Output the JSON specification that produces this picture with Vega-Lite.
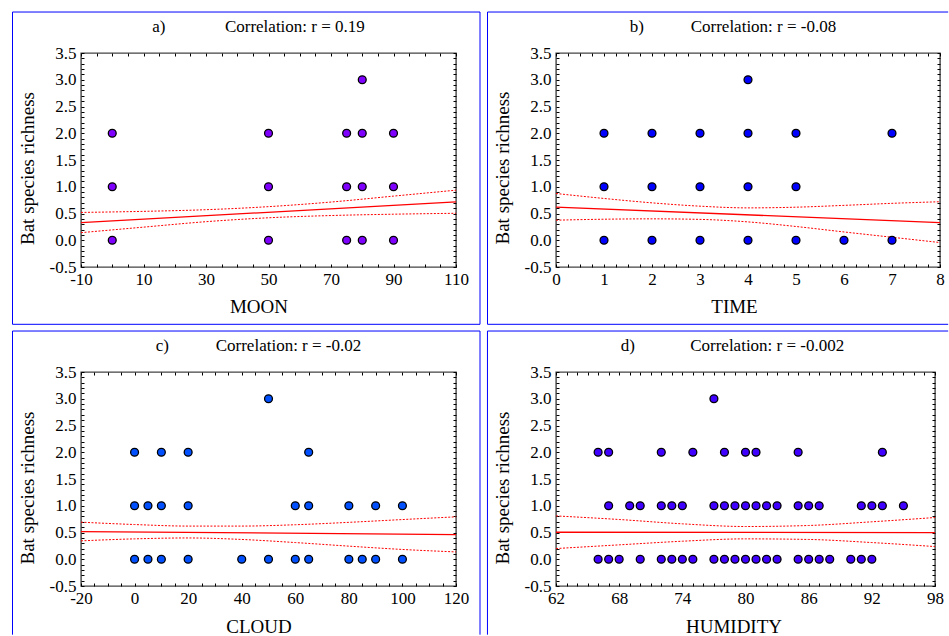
{
  "$schema": "https://vega.github.io/schema/vega-lite/v6.json",
  "padding": {"left": 11, "top": 10, "right": 0, "bottom": 0},
  "background": "#ffffff",
  "columns": 2,
  "align": "each",
  "bounds": "full",
  "spacing": {"column": 4, "row": 3},
  "datasets": {
    "moon": [
      {"x": 80, "y": 3},
      {"x": 0, "y": 2}, {"x": 50, "y": 2}, {"x": 75, "y": 2}, {"x": 80, "y": 2}, {"x": 90, "y": 2},
      {"x": 0, "y": 1}, {"x": 50, "y": 1}, {"x": 75, "y": 1}, {"x": 80, "y": 1}, {"x": 90, "y": 1},
      {"x": 0, "y": 0}, {"x": 50, "y": 0}, {"x": 75, "y": 0}, {"x": 80, "y": 0}, {"x": 90, "y": 0}
    ],
    "moonFit": [{"x": -10, "y": 0.33}, {"x": 110, "y": 0.717}],
    "moonCI": [
      {"bound": "upper", "x": -10, "y": 0.52}, {"bound": "upper", "x": 10, "y": 0.54}, {"bound": "upper", "x": 30, "y": 0.571},
      {"bound": "upper", "x": 50, "y": 0.628}, {"bound": "upper", "x": 70, "y": 0.714}, {"bound": "upper", "x": 90, "y": 0.825},
      {"bound": "upper", "x": 110, "y": 0.936},
      {"bound": "lower", "x": -10, "y": 0.142}, {"bound": "lower", "x": 10, "y": 0.245}, {"bound": "lower", "x": 30, "y": 0.347},
      {"bound": "lower", "x": 50, "y": 0.42}, {"bound": "lower", "x": 70, "y": 0.462}, {"bound": "lower", "x": 90, "y": 0.487},
      {"bound": "lower", "x": 110, "y": 0.504}
    ],
    "time": [
      {"x": 4, "y": 3},
      {"x": 1, "y": 2}, {"x": 2, "y": 2}, {"x": 3, "y": 2}, {"x": 4, "y": 2}, {"x": 5, "y": 2}, {"x": 7, "y": 2},
      {"x": 1, "y": 1}, {"x": 2, "y": 1}, {"x": 3, "y": 1}, {"x": 4, "y": 1}, {"x": 5, "y": 1},
      {"x": 1, "y": 0}, {"x": 2, "y": 0}, {"x": 3, "y": 0}, {"x": 4, "y": 0}, {"x": 5, "y": 0}, {"x": 6, "y": 0}, {"x": 7, "y": 0}
    ],
    "timeFit": [{"x": 0, "y": 0.618}, {"x": 8, "y": 0.331}],
    "timeCI": [
      {"bound": "upper", "x": 0, "y": 0.874}, {"bound": "upper", "x": 1, "y": 0.781}, {"bound": "upper", "x": 2, "y": 0.699},
      {"bound": "upper", "x": 3, "y": 0.637}, {"bound": "upper", "x": 4, "y": 0.605}, {"bound": "upper", "x": 5, "y": 0.618},
      {"bound": "upper", "x": 6, "y": 0.652}, {"bound": "upper", "x": 7, "y": 0.69}, {"bound": "upper", "x": 8, "y": 0.72},
      {"bound": "lower", "x": 0, "y": 0.375}, {"bound": "lower", "x": 1, "y": 0.393}, {"bound": "lower", "x": 2, "y": 0.4},
      {"bound": "lower", "x": 3, "y": 0.39}, {"bound": "lower", "x": 4, "y": 0.343}, {"bound": "lower", "x": 5, "y": 0.257},
      {"bound": "lower", "x": 6, "y": 0.155}, {"bound": "lower", "x": 7, "y": 0.056}, {"bound": "lower", "x": 8, "y": -0.043}
    ],
    "cloud": [
      {"x": 50, "y": 3},
      {"x": 0, "y": 2}, {"x": 10, "y": 2}, {"x": 20, "y": 2}, {"x": 65, "y": 2},
      {"x": 0, "y": 1}, {"x": 5, "y": 1}, {"x": 10, "y": 1}, {"x": 20, "y": 1}, {"x": 60, "y": 1}, {"x": 65, "y": 1},
      {"x": 80, "y": 1}, {"x": 90, "y": 1}, {"x": 100, "y": 1},
      {"x": 0, "y": 0}, {"x": 5, "y": 0}, {"x": 10, "y": 0}, {"x": 20, "y": 0}, {"x": 40, "y": 0}, {"x": 50, "y": 0},
      {"x": 60, "y": 0}, {"x": 65, "y": 0}, {"x": 80, "y": 0}, {"x": 85, "y": 0}, {"x": 90, "y": 0}, {"x": 100, "y": 0}
    ],
    "cloudFit": [{"x": -20, "y": 0.518}, {"x": 120, "y": 0.462}],
    "cloudCI": [
      {"bound": "upper", "x": -20, "y": 0.693}, {"bound": "upper", "x": 0, "y": 0.649}, {"bound": "upper", "x": 20, "y": 0.62},
      {"bound": "upper", "x": 40, "y": 0.62}, {"bound": "upper", "x": 60, "y": 0.645}, {"bound": "upper", "x": 80, "y": 0.69},
      {"bound": "upper", "x": 100, "y": 0.742}, {"bound": "upper", "x": 120, "y": 0.793},
      {"bound": "lower", "x": -20, "y": 0.344}, {"bound": "lower", "x": 0, "y": 0.381}, {"bound": "lower", "x": 20, "y": 0.398},
      {"bound": "lower", "x": 40, "y": 0.37}, {"bound": "lower", "x": 60, "y": 0.312}, {"bound": "lower", "x": 80, "y": 0.245},
      {"bound": "lower", "x": 100, "y": 0.183}, {"bound": "lower", "x": 120, "y": 0.137}
    ],
    "humidity": [
      {"x": 77, "y": 3},
      {"x": 66, "y": 2}, {"x": 67, "y": 2}, {"x": 72, "y": 2}, {"x": 75, "y": 2}, {"x": 78, "y": 2}, {"x": 80, "y": 2},
      {"x": 81, "y": 2}, {"x": 85, "y": 2}, {"x": 93, "y": 2},
      {"x": 67, "y": 1}, {"x": 69, "y": 1}, {"x": 70, "y": 1}, {"x": 72, "y": 1}, {"x": 73, "y": 1}, {"x": 74, "y": 1},
      {"x": 77, "y": 1}, {"x": 78, "y": 1}, {"x": 79, "y": 1}, {"x": 80, "y": 1}, {"x": 81, "y": 1}, {"x": 82, "y": 1},
      {"x": 83, "y": 1}, {"x": 85, "y": 1}, {"x": 86, "y": 1}, {"x": 87, "y": 1}, {"x": 91, "y": 1}, {"x": 92, "y": 1},
      {"x": 93, "y": 1}, {"x": 95, "y": 1},
      {"x": 66, "y": 0}, {"x": 67, "y": 0}, {"x": 68, "y": 0}, {"x": 70, "y": 0}, {"x": 72, "y": 0}, {"x": 73, "y": 0},
      {"x": 74, "y": 0}, {"x": 75, "y": 0}, {"x": 77, "y": 0}, {"x": 78, "y": 0}, {"x": 79, "y": 0}, {"x": 80, "y": 0},
      {"x": 81, "y": 0}, {"x": 82, "y": 0}, {"x": 83, "y": 0}, {"x": 85, "y": 0}, {"x": 86, "y": 0}, {"x": 87, "y": 0},
      {"x": 88, "y": 0}, {"x": 90, "y": 0}, {"x": 91, "y": 0}, {"x": 92, "y": 0}
    ],
    "humidityFit": [{"x": 62, "y": 0.505}, {"x": 98, "y": 0.499}],
    "humidityCI": [
      {"bound": "upper", "x": 62, "y": 0.81}, {"bound": "upper", "x": 68, "y": 0.743}, {"bound": "upper", "x": 74, "y": 0.662},
      {"bound": "upper", "x": 80, "y": 0.612}, {"bound": "upper", "x": 86, "y": 0.631}, {"bound": "upper", "x": 92, "y": 0.7},
      {"bound": "upper", "x": 98, "y": 0.78},
      {"bound": "lower", "x": 62, "y": 0.2}, {"bound": "lower", "x": 68, "y": 0.269}, {"bound": "lower", "x": 74, "y": 0.337},
      {"bound": "lower", "x": 80, "y": 0.381}, {"bound": "lower", "x": 86, "y": 0.37}, {"bound": "lower", "x": 92, "y": 0.312},
      {"bound": "lower", "x": 98, "y": 0.237}
    ],
    "one": [{}]
  },
  "concat": [
    {
      "width": 375, "height": 214,
      "title": {"text": "a)\u00a0\u00a0\u00a0\u00a0\u00a0\u00a0\u00a0\u00a0\u00a0\u00a0\u00a0\u00a0\u00a0\u00a0Correlation: r = 0.19", "dx": -10},
      "layer": [
        {
          "data": {"name": "one"},
          "mark": {"type": "rect", "filled": false, "color": "#0000FF", "strokeWidth": 1},
          "encoding": {
            "x": {"datum": -31.92, "type": "quantitative", "scale": {"domain": [-10, 110], "nice": false, "zero": false}, "axis": null},
            "x2": {"datum": 117.68},
            "y": {"datum": 4.266, "type": "quantitative", "scale": {"domain": [-0.5, 3.5], "nice": false, "zero": false}, "axis": null},
            "y2": {"datum": -1.571}
          }
        },
        {
          "data": {"name": "moonFit"},
          "mark": {"type": "line", "color": "#FF0000", "strokeWidth": 1.3},
          "encoding": {
            "x": {"field": "x", "type": "quantitative", "scale": {"domain": [-10, 110], "nice": false, "zero": false},
                  "axis": {"orient": "top", "labels": false, "title": null, "values": [-10,-5,0,5,10,15,20,25,30,35,40,45,50,55,60,65,70,75,80,85,90,95,100,105,110]}},
            "y": {"field": "y", "type": "quantitative", "scale": {"domain": [-0.5, 3.5], "nice": false, "zero": false},
                  "axis": {"orient": "right", "labels": false, "title": null, "values": [-0.5,-0.4,-0.3,-0.2,-0.1,0,0.1,0.2,0.3,0.4,0.5,0.6,0.7,0.8,0.9,1,1.1,1.2,1.3,1.4,1.5,1.6,1.7,1.8,1.9,2,2.1,2.2,2.3,2.4,2.5,2.6,2.7,2.8,2.9,3,3.1,3.2,3.3,3.4,3.5]}}
          }
        },
        {
          "data": {"name": "moonCI"},
          "mark": {"type": "line", "color": "#FF0000", "strokeWidth": 1, "strokeDash": [2, 1.5], "interpolate": "monotone"},
          "encoding": {
            "x": {"field": "x", "type": "quantitative", "scale": {"domain": [-10, 110], "nice": false, "zero": false}, "axis": null},
            "y": {"field": "y", "type": "quantitative", "scale": {"domain": [-0.5, 3.5], "nice": false, "zero": false}, "axis": null},
            "detail": {"field": "bound"}
          }
        },
        {
          "data": {"name": "moon"},
          "mark": {"type": "circle", "size": 62, "opacity": 1, "fill": "#8000FF", "stroke": "#000000", "strokeWidth": 1.3},
          "encoding": {
            "x": {"field": "x", "type": "quantitative", "scale": {"domain": [-10, 110], "nice": false, "zero": false},
                  "axis": {"orient": "bottom", "title": "MOON", "titleX": 177.5, "titleY": 45.5, "titleBaseline": "alphabetic", "titleAlign": "center",
                           "values": [-10,-5,0,5,10,15,20,25,30,35,40,45,50,55,60,65,70,75,80,85,90,95,100,105,110],
                           "labelExpr": "(datum.value + 10) % 20 == 0 ? '' + datum.value : ''"}},
            "y": {"field": "y", "type": "quantitative", "scale": {"domain": [-0.5, 3.5], "nice": false, "zero": false},
                  "axis": {"orient": "left", "title": "Bat species richness", "titleX": -48, "titleY": 115, "titleBaseline": "alphabetic", "titleAlign": "center",
                           "values": [-0.5,-0.4,-0.3,-0.2,-0.1,0,0.1,0.2,0.3,0.4,0.5,0.6,0.7,0.8,0.9,1,1.1,1.2,1.3,1.4,1.5,1.6,1.7,1.8,1.9,2,2.1,2.2,2.3,2.4,2.5,2.6,2.7,2.8,2.9,3,3.1,3.2,3.3,3.4,3.5],
                           "labelExpr": "round(datum.value * 10) % 5 == 0 ? (datum.value < 0 ? '-' : '') + format(abs(datum.value), '.1f') : ''"}}
          }
        }
      ],
      "resolve": {"axis": {"x": "independent", "y": "independent"}}
    },
    {
      "width": 384, "height": 214,
      "title": {"text": "b)\u00a0\u00a0\u00a0\u00a0\u00a0\u00a0\u00a0\u00a0\u00a0\u00a0\u00a0Correlation: r = -0.08", "dx": -15},
      "layer": [
        {
          "data": {"name": "one"},
          "mark": {"type": "rule", "color": "#0000FF", "strokeWidth": 1},
          "encoding": {
            "x": {"datum": -1.427, "type": "quantitative", "scale": {"domain": [0, 8], "nice": false, "zero": false}, "axis": null},
            "y": {"datum": 4.266, "type": "quantitative", "scale": {"domain": [-0.5, 3.5], "nice": false, "zero": false}, "axis": null},
            "y2": {"datum": -1.571}
          }
        },
        {
          "data": {"name": "one"},
          "mark": {"type": "rule", "color": "#0000FF", "strokeWidth": 1},
          "encoding": {
            "x": {"datum": -1.427, "type": "quantitative", "scale": {"domain": [0, 8], "nice": false, "zero": false}, "axis": null},
            "x2": {"datum": 8.17},
            "y": {"datum": 4.266, "type": "quantitative", "scale": {"domain": [-0.5, 3.5], "nice": false, "zero": false}, "axis": null}
          }
        },
        {
          "data": {"name": "one"},
          "mark": {"type": "rule", "color": "#0000FF", "strokeWidth": 1},
          "encoding": {
            "x": {"datum": -1.427, "type": "quantitative", "scale": {"domain": [0, 8], "nice": false, "zero": false}, "axis": null},
            "x2": {"datum": 8.17},
            "y": {"datum": -1.571, "type": "quantitative", "scale": {"domain": [-0.5, 3.5], "nice": false, "zero": false}, "axis": null}
          }
        },
        {
          "data": {"name": "timeFit"},
          "mark": {"type": "line", "color": "#FF0000", "strokeWidth": 1.3},
          "encoding": {
            "x": {"field": "x", "type": "quantitative", "scale": {"domain": [0, 8], "nice": false, "zero": false},
                  "axis": {"orient": "top", "labels": false, "title": null, "values": [0,0.25,0.5,0.75,1,1.25,1.5,1.75,2,2.25,2.5,2.75,3,3.25,3.5,3.75,4,4.25,4.5,4.75,5,5.25,5.5,5.75,6,6.25,6.5,6.75,7,7.25,7.5,7.75,8]}},
            "y": {"field": "y", "type": "quantitative", "scale": {"domain": [-0.5, 3.5], "nice": false, "zero": false},
                  "axis": {"orient": "right", "labels": false, "title": null, "values": [-0.5,-0.4,-0.3,-0.2,-0.1,0,0.1,0.2,0.3,0.4,0.5,0.6,0.7,0.8,0.9,1,1.1,1.2,1.3,1.4,1.5,1.6,1.7,1.8,1.9,2,2.1,2.2,2.3,2.4,2.5,2.6,2.7,2.8,2.9,3,3.1,3.2,3.3,3.4,3.5]}}
          }
        },
        {
          "data": {"name": "timeCI"},
          "mark": {"type": "line", "color": "#FF0000", "strokeWidth": 1, "strokeDash": [2, 1.5], "interpolate": "monotone"},
          "encoding": {
            "x": {"field": "x", "type": "quantitative", "scale": {"domain": [0, 8], "nice": false, "zero": false}, "axis": null},
            "y": {"field": "y", "type": "quantitative", "scale": {"domain": [-0.5, 3.5], "nice": false, "zero": false}, "axis": null},
            "detail": {"field": "bound"}
          }
        },
        {
          "data": {"name": "time"},
          "mark": {"type": "circle", "size": 62, "opacity": 1, "fill": "#0000FF", "stroke": "#000000", "strokeWidth": 1.3},
          "encoding": {
            "x": {"field": "x", "type": "quantitative", "scale": {"domain": [0, 8], "nice": false, "zero": false},
                  "axis": {"orient": "bottom", "title": "TIME", "titleX": 178, "titleY": 45.5, "titleBaseline": "alphabetic", "titleAlign": "center",
                           "values": [0,0.25,0.5,0.75,1,1.25,1.5,1.75,2,2.25,2.5,2.75,3,3.25,3.5,3.75,4,4.25,4.5,4.75,5,5.25,5.5,5.75,6,6.25,6.5,6.75,7,7.25,7.5,7.75,8],
                           "labelExpr": "datum.value % 1 == 0 ? '' + datum.value : ''"}},
            "y": {"field": "y", "type": "quantitative", "scale": {"domain": [-0.5, 3.5], "nice": false, "zero": false},
                  "axis": {"orient": "left", "title": "Bat species richness", "titleX": -48, "titleY": 114.5, "titleBaseline": "alphabetic", "titleAlign": "center",
                           "values": [-0.5,-0.4,-0.3,-0.2,-0.1,0,0.1,0.2,0.3,0.4,0.5,0.6,0.7,0.8,0.9,1,1.1,1.2,1.3,1.4,1.5,1.6,1.7,1.8,1.9,2,2.1,2.2,2.3,2.4,2.5,2.6,2.7,2.8,2.9,3,3.1,3.2,3.3,3.4,3.5],
                           "labelExpr": "round(datum.value * 10) % 5 == 0 ? (datum.value < 0 ? '-' : '') + format(abs(datum.value), '.1f') : ''"}}
          }
        }
      ],
      "resolve": {"axis": {"x": "independent", "y": "independent"}}
    },
    {
      "width": 375, "height": 214,
      "title": {"text": "c)\u00a0\u00a0\u00a0\u00a0\u00a0\u00a0\u00a0\u00a0\u00a0\u00a0\u00a0Correlation: r = -0.02", "dx": -10},
      "layer": [
        {
          "data": {"name": "one"},
          "mark": {"type": "rule", "color": "#0000FF", "strokeWidth": 1},
          "encoding": {
            "x": {"datum": -45.57, "type": "quantitative", "scale": {"domain": [-20, 120], "nice": false, "zero": false}, "axis": null},
            "y": {"datum": 4.266, "type": "quantitative", "scale": {"domain": [-0.5, 3.5], "nice": false, "zero": false}, "axis": null},
            "y2": {"datum": -1.41}
          }
        },
        {
          "data": {"name": "one"},
          "mark": {"type": "rule", "color": "#0000FF", "strokeWidth": 1},
          "encoding": {
            "x": {"datum": 128.96, "type": "quantitative", "scale": {"domain": [-20, 120], "nice": false, "zero": false}, "axis": null},
            "y": {"datum": 4.266, "type": "quantitative", "scale": {"domain": [-0.5, 3.5], "nice": false, "zero": false}, "axis": null},
            "y2": {"datum": -1.41}
          }
        },
        {
          "data": {"name": "one"},
          "mark": {"type": "rule", "color": "#0000FF", "strokeWidth": 1},
          "encoding": {
            "x": {"datum": -45.57, "type": "quantitative", "scale": {"domain": [-20, 120], "nice": false, "zero": false}, "axis": null},
            "x2": {"datum": 128.96},
            "y": {"datum": 4.266, "type": "quantitative", "scale": {"domain": [-0.5, 3.5], "nice": false, "zero": false}, "axis": null}
          }
        },
        {
          "data": {"name": "cloudFit"},
          "mark": {"type": "line", "color": "#FF0000", "strokeWidth": 1.3},
          "encoding": {
            "x": {"field": "x", "type": "quantitative", "scale": {"domain": [-20, 120], "nice": false, "zero": false},
                  "axis": {"orient": "top", "labels": false, "title": null, "values": [-20,-15,-10,-5,0,5,10,15,20,25,30,35,40,45,50,55,60,65,70,75,80,85,90,95,100,105,110,115,120]}},
            "y": {"field": "y", "type": "quantitative", "scale": {"domain": [-0.5, 3.5], "nice": false, "zero": false},
                  "axis": {"orient": "right", "labels": false, "title": null, "values": [-0.5,-0.4,-0.3,-0.2,-0.1,0,0.1,0.2,0.3,0.4,0.5,0.6,0.7,0.8,0.9,1,1.1,1.2,1.3,1.4,1.5,1.6,1.7,1.8,1.9,2,2.1,2.2,2.3,2.4,2.5,2.6,2.7,2.8,2.9,3,3.1,3.2,3.3,3.4,3.5]}}
          }
        },
        {
          "data": {"name": "cloudCI"},
          "mark": {"type": "line", "color": "#FF0000", "strokeWidth": 1, "strokeDash": [2, 1.5], "interpolate": "monotone"},
          "encoding": {
            "x": {"field": "x", "type": "quantitative", "scale": {"domain": [-20, 120], "nice": false, "zero": false}, "axis": null},
            "y": {"field": "y", "type": "quantitative", "scale": {"domain": [-0.5, 3.5], "nice": false, "zero": false}, "axis": null},
            "detail": {"field": "bound"}
          }
        },
        {
          "data": {"name": "cloud"},
          "mark": {"type": "circle", "size": 62, "opacity": 1, "fill": "#0050FF", "stroke": "#000000", "strokeWidth": 1.3},
          "encoding": {
            "x": {"field": "x", "type": "quantitative", "scale": {"domain": [-20, 120], "nice": false, "zero": false},
                  "axis": {"orient": "bottom", "title": "CLOUD", "titleX": 177.5, "titleY": 46, "titleBaseline": "alphabetic", "titleAlign": "center",
                           "values": [-20,-15,-10,-5,0,5,10,15,20,25,30,35,40,45,50,55,60,65,70,75,80,85,90,95,100,105,110,115,120],
                           "labelExpr": "datum.value % 20 == 0 ? '' + datum.value : ''"}},
            "y": {"field": "y", "type": "quantitative", "scale": {"domain": [-0.5, 3.5], "nice": false, "zero": false},
                  "axis": {"orient": "left", "title": "Bat species richness", "titleX": -48, "titleY": 115.5, "titleBaseline": "alphabetic", "titleAlign": "center",
                           "values": [-0.5,-0.4,-0.3,-0.2,-0.1,0,0.1,0.2,0.3,0.4,0.5,0.6,0.7,0.8,0.9,1,1.1,1.2,1.3,1.4,1.5,1.6,1.7,1.8,1.9,2,2.1,2.2,2.3,2.4,2.5,2.6,2.7,2.8,2.9,3,3.1,3.2,3.3,3.4,3.5],
                           "labelExpr": "round(datum.value * 10) % 5 == 0 ? (datum.value < 0 ? '-' : '') + format(abs(datum.value), '.1f') : ''"}}
          }
        }
      ],
      "resolve": {"axis": {"x": "independent", "y": "independent"}}
    },
    {
      "width": 379, "height": 214,
      "title": {"text": "d)\u00a0\u00a0\u00a0\u00a0\u00a0\u00a0\u00a0\u00a0\u00a0\u00a0\u00a0\u00a0\u00a0Correlation: r = -0.002", "dx": -13},
      "layer": [
        {
          "data": {"name": "one"},
          "mark": {"type": "rule", "color": "#0000FF", "strokeWidth": 1},
          "encoding": {
            "x": {"datum": 55.49, "type": "quantitative", "scale": {"domain": [62, 98], "nice": false, "zero": false}, "axis": null},
            "y": {"datum": 4.266, "type": "quantitative", "scale": {"domain": [-0.5, 3.5], "nice": false, "zero": false}, "axis": null},
            "y2": {"datum": -1.41}
          }
        },
        {
          "data": {"name": "one"},
          "mark": {"type": "rule", "color": "#0000FF", "strokeWidth": 1},
          "encoding": {
            "x": {"datum": 55.49, "type": "quantitative", "scale": {"domain": [62, 98], "nice": false, "zero": false}, "axis": null},
            "x2": {"datum": 99.25},
            "y": {"datum": 4.266, "type": "quantitative", "scale": {"domain": [-0.5, 3.5], "nice": false, "zero": false}, "axis": null}
          }
        },
        {
          "data": {"name": "humidityFit"},
          "mark": {"type": "line", "color": "#FF0000", "strokeWidth": 1.3},
          "encoding": {
            "x": {"field": "x", "type": "quantitative", "scale": {"domain": [62, 98], "nice": false, "zero": false},
                  "axis": {"orient": "top", "labels": false, "title": null, "values": [62,63,64,65,66,67,68,69,70,71,72,73,74,75,76,77,78,79,80,81,82,83,84,85,86,87,88,89,90,91,92,93,94,95,96,97,98]}},
            "y": {"field": "y", "type": "quantitative", "scale": {"domain": [-0.5, 3.5], "nice": false, "zero": false},
                  "axis": {"orient": "right", "labels": false, "title": null, "values": [-0.5,-0.4,-0.3,-0.2,-0.1,0,0.1,0.2,0.3,0.4,0.5,0.6,0.7,0.8,0.9,1,1.1,1.2,1.3,1.4,1.5,1.6,1.7,1.8,1.9,2,2.1,2.2,2.3,2.4,2.5,2.6,2.7,2.8,2.9,3,3.1,3.2,3.3,3.4,3.5]}}
          }
        },
        {
          "data": {"name": "humidityCI"},
          "mark": {"type": "line", "color": "#FF0000", "strokeWidth": 1, "strokeDash": [2, 1.5], "interpolate": "monotone"},
          "encoding": {
            "x": {"field": "x", "type": "quantitative", "scale": {"domain": [62, 98], "nice": false, "zero": false}, "axis": null},
            "y": {"field": "y", "type": "quantitative", "scale": {"domain": [-0.5, 3.5], "nice": false, "zero": false}, "axis": null},
            "detail": {"field": "bound"}
          }
        },
        {
          "data": {"name": "humidity"},
          "mark": {"type": "circle", "size": 62, "opacity": 1, "fill": "#4000FF", "stroke": "#000000", "strokeWidth": 1.3},
          "encoding": {
            "x": {"field": "x", "type": "quantitative", "scale": {"domain": [62, 98], "nice": false, "zero": false},
                  "axis": {"orient": "bottom", "title": "HUMIDITY", "titleX": 177.5, "titleY": 46, "titleBaseline": "alphabetic", "titleAlign": "center",
                           "values": [62,63,64,65,66,67,68,69,70,71,72,73,74,75,76,77,78,79,80,81,82,83,84,85,86,87,88,89,90,91,92,93,94,95,96,97,98],
                           "labelExpr": "(datum.value - 62) % 6 == 0 ? '' + datum.value : ''"}},
            "y": {"field": "y", "type": "quantitative", "scale": {"domain": [-0.5, 3.5], "nice": false, "zero": false},
                  "axis": {"orient": "left", "title": "Bat species richness", "titleX": -48, "titleY": 115.5, "titleBaseline": "alphabetic", "titleAlign": "center",
                           "values": [-0.5,-0.4,-0.3,-0.2,-0.1,0,0.1,0.2,0.3,0.4,0.5,0.6,0.7,0.8,0.9,1,1.1,1.2,1.3,1.4,1.5,1.6,1.7,1.8,1.9,2,2.1,2.2,2.3,2.4,2.5,2.6,2.7,2.8,2.9,3,3.1,3.2,3.3,3.4,3.5],
                           "labelExpr": "round(datum.value * 10) % 5 == 0 ? (datum.value < 0 ? '-' : '') + format(abs(datum.value), '.1f') : ''"}}
          }
        }
      ],
      "resolve": {"axis": {"x": "independent", "y": "independent"}}
    }
  ],
  "config": {
    "font": "Liberation Serif",
    "view": {"stroke": "#444444", "strokeWidth": 1.4},
    "title": {"font": "Liberation Serif", "fontSize": 17, "fontWeight": "normal", "color": "#000000", "anchor": "middle", "frame": "group", "offset": -24.5, "baseline": "alphabetic"},
    "axis": {
      "grid": false, "domain": false, "ticks": true, "tickSize": -3, "tickColor": "#000000", "tickWidth": 1,
      "labelFont": "Liberation Serif", "labelFontSize": 17, "labelColor": "#000000",
      "labelOverlap": false, "labelFlush": false, "labelBound": false,
      "titleFont": "Liberation Serif", "titleFontSize": 19, "titleFontWeight": "normal", "titleColor": "#000000"
    },
    "axisX": {"labelPadding": 7.5},
    "axisY": {"labelPadding": 8}
  }
}
